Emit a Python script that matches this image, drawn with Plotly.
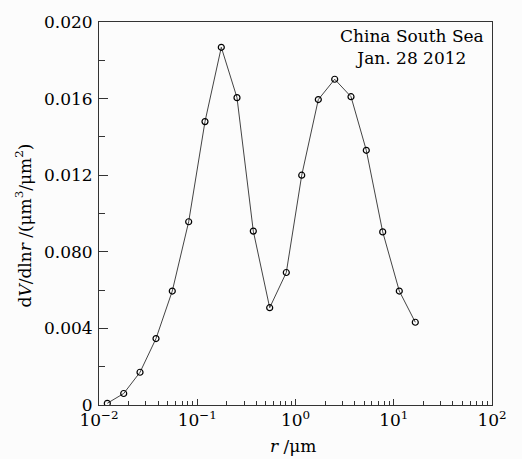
import plotly.graph_objects as go

radius_um = [0.01215, 0.01784, 0.02615, 0.03804, 0.0557, 0.0818, 0.1199, 0.1757,
             0.2538, 0.3720, 0.5462, 0.806, 1.157, 1.707, 2.506, 3.672, 5.256,
             7.719, 11.39, 16.57]
dv_dlnr = [0.00009, 0.0006, 0.00171, 0.00347, 0.00595, 0.00957, 0.0148, 0.01868,
           0.01605, 0.00908, 0.00508, 0.00692, 0.0120, 0.01595, 0.01701, 0.0161,
           0.0133, 0.00904, 0.00595, 0.00432]

y_tickvals = [0, 0.004, 0.008, 0.012, 0.016, 0.020]
y_ticktext = ["0", "0.004", "0.080", "0.012", "0.016", "0.020"]
y_minorvals = [0.002, 0.006, 0.010, 0.014, 0.018]
x_tickvals = [0.01, 0.1, 1, 10, 100]
x_ticktext = ["10<sup>−2</sup>", "10<sup>−1</sup>", "10<sup>0</sup>",
              "10<sup>1</sup>", "10<sup>2</sup>"]
x_minorvals = [m * 10 ** e for e in (-2, -1, 0, 1) for m in range(2, 10)]

FONT = "DejaVu Serif"

fig = go.Figure()
fig.add_trace(go.Scatter(
    x=radius_um, y=dv_dlnr, mode="lines+markers",
    line=dict(color="#444444", width=1),
    marker=dict(symbol="circle-open", size=6, color="black",
                line=dict(width=1.2, color="black")),
    showlegend=False,
))

fig.update_layout(
    width=522, height=459,
    margin=dict(l=99, r=30, t=15, b=54),
    paper_bgcolor="#fcfcfc", plot_bgcolor="#fcfcfc",
    font=dict(family=FONT, size=17, color="black"),
    xaxis=dict(
        type="log", range=[-2, 2],
        tickmode="array", tickvals=x_tickvals, ticktext=x_ticktext,
        ticks="inside", ticklen=6, tickcolor="#333",
        showline=True, linecolor="#333", linewidth=1, mirror=True,
        showgrid=False, zeroline=False,
        minor=dict(tickmode="array", tickvals=x_minorvals, ticks="inside",
                   ticklen=4, tickcolor="#333", showgrid=False),
        tickfont=dict(size=17), ticklabelstandoff=0,
    ),
    yaxis=dict(
        range=[0, 0.020],
        tickmode="array", tickvals=y_tickvals, ticktext=y_ticktext,
        ticks="inside", ticklen=9, tickcolor="#333",
        showline=True, linecolor="#333", linewidth=1, mirror=True,
        showgrid=False, zeroline=False,
        minor=dict(tickmode="array", tickvals=y_minorvals, ticks="inside",
                   ticklen=6, tickcolor="#333", showgrid=False),
        tickfont=dict(size=17), ticklabelstandoff=2,
    ),
    annotations=[
        dict(text="d<i>V</i>/dln<i>r</i> /(μm<sup>3</sup>/μm<sup>2</sup>)",
             xref="paper", yref="paper", x=0, y=0.5, xshift=-76, yshift=-12,
             xanchor="center", yanchor="middle", textangle=-90,
             showarrow=False, font=dict(family=FONT, size=17)),
        dict(text="<i>r</i> /μm", xref="paper", yref="paper", x=0.5, y=0,
             xshift=-3, yshift=-41, xanchor="center", yanchor="middle",
             showarrow=False, font=dict(family=FONT, size=17)),
        dict(text="China South Sea<br>Jan. 28 2012", xref="paper", yref="paper",
             x=0.796, y=(405.5 - 17) / 390.5, xanchor="center", yanchor="top",
             align="center", showarrow=False, font=dict(family=FONT, size=17)),
    ],
)

fig.write_html("out.html")
